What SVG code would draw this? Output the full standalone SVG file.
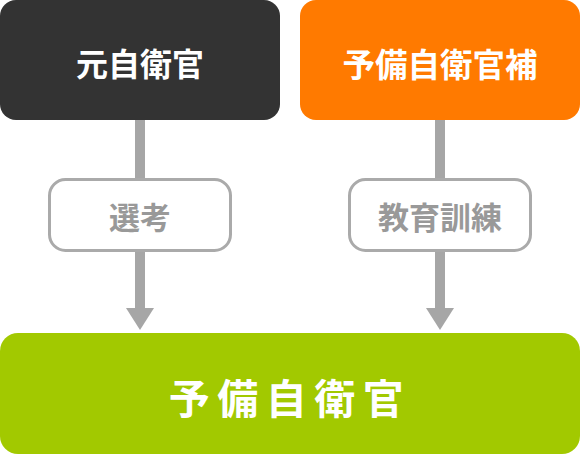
<svg xmlns="http://www.w3.org/2000/svg" width="580" height="456" viewBox="0 0 580 456">
<style>
.t{font-family:"Noto Sans CJK JP","Noto Sans CJK SC",sans-serif;font-weight:bold;text-anchor:middle;dominant-baseline:central}
.w{fill:#ffffff}
.g{fill:#999999;font-size:31px}
.lbl{fill:#ffffff;stroke:#aaaaaa;stroke-width:3}
.sh{fill:#a6a6a6}
</style>
<g id="connectors">
<rect class="sh" x="135" y="118" width="10" height="192"/>
<polygon class="sh" points="126,308 154,308 140,330"/>
<rect class="sh" x="435" y="118" width="10" height="192"/>
<polygon class="sh" points="426,308 454,308 440,330"/>
</g>
<g id="node-moto">
<rect x="0" y="0" width="280" height="120" rx="16" fill="#333333"/>
<text class="t w" x="140" y="62" font-size="32">元自衛官</text>
</g>
<g id="node-yobi-ho">
<rect x="300" y="0" width="280" height="120" rx="16" fill="#ff7a00"/>
<text class="t w" x="440" y="62" font-size="32.5">予備自衛官補</text>
</g>
<g id="label-senko">
<rect class="lbl" x="49.5" y="179.5" width="181" height="71" rx="16"/>
<text class="t g" x="140" y="215">選考</text>
</g>
<g id="label-kyoiku">
<rect class="lbl" x="349.5" y="179.5" width="181" height="71" rx="16"/>
<text class="t g" x="440" y="215">教育訓練</text>
</g>
<g id="node-yobi">
<rect x="0" y="333" width="580" height="121" rx="18" fill="#a2c900"/>
<text class="t w" x="290" y="396" font-size="41" letter-spacing="7.5">予備自衛官</text>
</g>
</svg>
